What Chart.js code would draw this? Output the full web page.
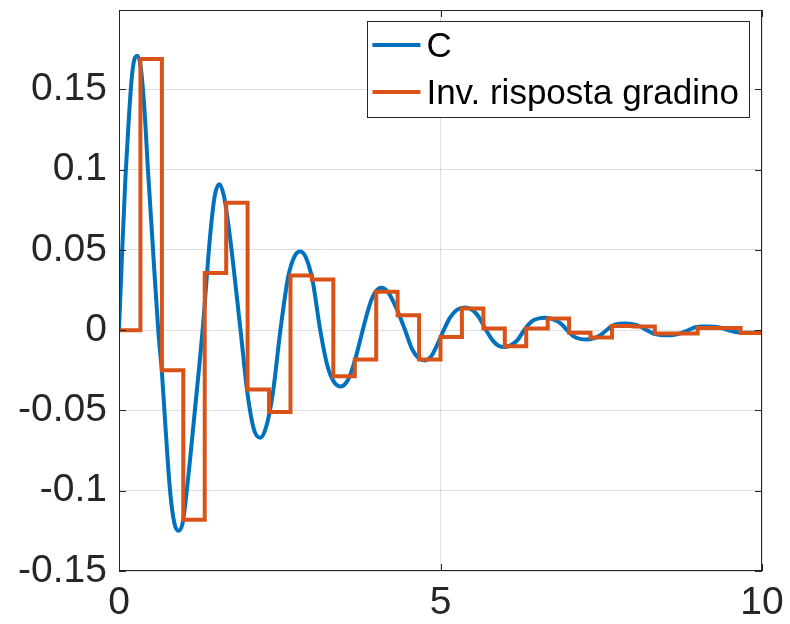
<!DOCTYPE html>
<html>
<head>
<meta charset="UTF-8">
<title>C e Inv. risposta gradino</title>
<script src="https://cdn.jsdelivr.net/npm/chart.js"></script>
<style>
  body { margin: 0; background: #fff; }
</style>
</head>
<body>
<canvas id="grafico" width="790" height="624"></canvas>

<script>
  // curva C
  const tempoC = [0, 0.05, 0.1, 0.15, 0.2, 0.25, 0.29, 0.34, 0.4, 0.45, 0.52, 0.61, 0.665, 0.706, 0.794, 0.86, 0.924, 0.99, 1.054, 1.18, 1.3,
    1.42, 1.49, 1.56, 1.63, 1.72, 1.89, 2.0, 2.1, 2.196, 2.29, 2.39, 2.51, 2.63, 2.73, 2.82, 2.91, 3.01, 3.13,
    3.24, 3.34, 3.45, 3.56, 3.66, 3.79, 3.9, 3.99, 4.08, 4.18, 4.3, 4.45, 4.56, 4.66, 4.76, 4.86, 4.95, 5.05,
    5.15, 5.26, 5.38, 5.5, 5.6, 5.71, 5.82, 5.91, 6.0, 6.1, 6.2, 6.3, 6.42, 6.53, 6.64, 6.75, 6.86, 6.97,
    7.07, 7.17, 7.27, 7.38, 7.48, 7.58, 7.68, 7.78, 7.88, 7.99, 8.1, 8.21, 8.31, 8.42, 8.53, 8.64, 8.74, 8.85,
    8.95, 9.05, 9.15, 9.26, 9.37, 9.48, 9.58, 9.68, 9.78, 9.89, 10];
  const valoriC = [0, 0.05, 0.095, 0.13, 0.158, 0.17, 0.171, 0.163, 0.135, 0.1, 0.056, 0, -0.025, -0.05, -0.1, -0.12, -0.125, -0.12, -0.1, -0.05, 0,
    0.06, 0.084, 0.091, 0.084, 0.06, 0, -0.04, -0.062, -0.067, -0.06, -0.04, 0, 0.033, 0.046, 0.049, 0.045, 0.031, 0,
    -0.022, -0.032, -0.035, -0.031, -0.02, 0, 0.016, 0.024, 0.0265, 0.024, 0.015, 0, -0.012, -0.0175, -0.0188, -0.016, -0.009, 0,
    0.008, 0.0128, 0.0142, 0.0125, 0.008, 0, -0.0068, -0.0098, -0.0104, -0.0092, -0.006, 0, 0.0055, 0.0074, 0.0077, 0.0068, 0.0045, 0,
    -0.0038, -0.0054, -0.0058, -0.0051, -0.0033, 0, 0.0029, 0.004, 0.0042, 0.0037, 0.0024, 0, -0.0021, -0.003, -0.0032, -0.0028, -0.0018, 0,
    0.0017, 0.0023, 0.0024, 0.0021, 0.0014, 0, -0.0011, -0.0015, -0.0016, -0.0014, -0.001];

  // risposta a gradino inversa (a scalini)
  const tempoGradino = [0, 0.333, 0.667, 1, 1.333, 1.667, 2, 2.333, 2.667, 3, 3.333, 3.667, 4, 4.333, 4.667, 5,
    5.333, 5.667, 6, 6.333, 6.667, 7, 7.333, 7.667, 8, 8.333, 8.667, 9, 9.333, 9.667, 10];
  const valoriGradino = [0, 0.169, -0.025, -0.118, 0.0357, 0.0794, -0.037, -0.051, 0.0341, 0.0316, -0.0287, -0.0183,
    0.0239, 0.0094, -0.0183, -0.0042, 0.0135, 0.0011, -0.010, 0.0011, 0.0073, -0.0016, -0.0046, 0.0026, 0.0024,
    -0.002, -0.002, 0.0014, 0.0014, -0.0017, -0.0017];

  const tickX = [0, 5, 10];
  const tickY = [-0.15, -0.1, -0.05, 0, 0.05, 0.1, 0.15];

  const font = '"Liberation Sans", Arial, Helvetica, sans-serif';
  const coloreAssi = '#262626';

  // box, tacche interne e legenda stile MATLAB
  const boxMatlab = {
    id: 'boxMatlab',
    afterDatasetsDraw(chart) {
      const ctx = chart.ctx;
      const a = chart.chartArea;
      const sx = chart.scales.x, sy = chart.scales.y;
      ctx.save();
      ctx.strokeStyle = coloreAssi;
      ctx.lineWidth = 1;
      ctx.strokeRect(a.left + 0.5, a.top + 0.5, a.right - a.left - 1, a.bottom - a.top - 1);
      ctx.beginPath();
      tickY.forEach(v => {
        const y = Math.round(sy.getPixelForValue(v)) + 0.5;
        ctx.moveTo(a.left, y); ctx.lineTo(a.left + 7, y);
        ctx.moveTo(a.right, y); ctx.lineTo(a.right - 7, y);
      });
      tickX.forEach(v => {
        const x = Math.round(sx.getPixelForValue(v)) + 0.5;
        ctx.moveTo(x, a.bottom); ctx.lineTo(x, a.bottom - 7);
        ctx.moveTo(x, a.top); ctx.lineTo(x, a.top + 7);
      });
      ctx.stroke();

      // legenda
      ctx.font = '35px ' + font;
      const voci = chart.data.datasets;
      const larghezzaTesto = Math.max(...voci.map(d => ctx.measureText(d.label).width));
      const w = 5 + 48 + 6 + larghezzaTesto + 10;
      const h = 96;
      const x0 = a.right - 13 - w;
      const y0 = a.top + 11;
      ctx.fillStyle = '#fff';
      ctx.fillRect(x0, y0, w, h);
      ctx.strokeStyle = coloreAssi;
      ctx.strokeRect(Math.round(x0) + 0.5, y0 + 0.5, Math.round(w), h);
      voci.forEach((d, i) => {
        const y = y0 + 24 + i * 47;
        ctx.strokeStyle = d.borderColor;
        ctx.lineWidth = 4;
        ctx.beginPath();
        ctx.moveTo(x0 + 5, y); ctx.lineTo(x0 + 53, y);
        ctx.stroke();
        ctx.fillStyle = '#000';
        ctx.textBaseline = 'middle';
        ctx.fillText(d.label, x0 + 59, y + 2);
      });
      ctx.restore();
    }
  };

  const ctx = document.getElementById('grafico').getContext('2d');
  new Chart(ctx, {
    type: 'line',
    data: {
      datasets: [
        {
          label: 'C',
          data: tempoC.map((t, i) => ({ x: t, y: valoriC[i] })),
          borderColor: '#0072BD',
          borderWidth: 4,
          pointRadius: 0,
          cubicInterpolationMode: 'monotone',
          fill: false,
          order: 2
        },
        {
          label: 'Inv. risposta gradino',
          data: tempoGradino.map((t, i) => ({ x: t, y: valoriGradino[i] })),
          borderColor: '#D95319',
          borderWidth: 4,
          pointRadius: 0,
          stepped: true,
          fill: false,
          order: 1
        }
      ]
    },
    options: {
      responsive: false,
      animation: false,
      layout: { padding: { top: 10, right: 28, left: 0, bottom: 0 } },
      plugins: { legend: { display: false }, tooltip: { enabled: false } },
      scales: {
        x: {
          type: 'linear',
          min: 0,
          max: 10,
          afterBuildTicks: s => { s.ticks = tickX.map(v => ({ value: v })); },
          afterFit: s => { s.height = 53; s.paddingLeft = 0; s.paddingRight = 0; },
          grid: { color: 'rgba(38,38,38,0.15)', drawTicks: false },
          border: { display: false },
          ticks: { font: { family: font, size: 39 }, color: coloreAssi, padding: 9, maxRotation: 0 }
        },
        y: {
          type: 'linear',
          min: -0.15,
          max: 0.1995,
          afterBuildTicks: s => { s.ticks = tickY.map(v => ({ value: v })); },
          afterFit: s => { s.width = 119; s.paddingTop = 0; s.paddingBottom = 0; },
          grid: { color: 'rgba(38,38,38,0.15)', drawTicks: false },
          border: { display: false },
          ticks: {
            font: { family: font, size: 39 },
            color: coloreAssi,
            padding: 12,
            callback: v => String(parseFloat(v.toFixed(2)))
          }
        }
      }
    },
    plugins: [boxMatlab]
  });
</script>
</body>
</html>
